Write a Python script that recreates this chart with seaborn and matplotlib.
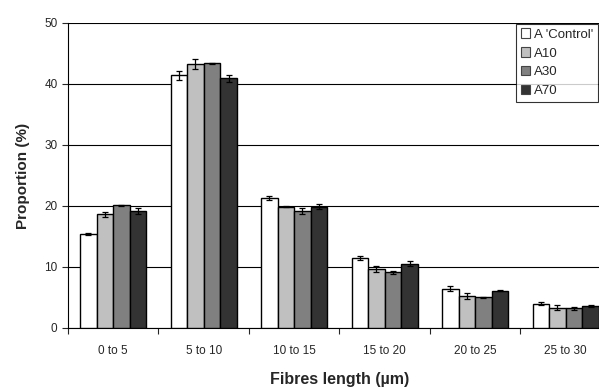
import pandas as pd
import matplotlib.pyplot as plt
import seaborn as sns

categories = ["0 to 5", "5 to 10", "10 to 15", "15 to 20", "20 to 25", "25 to 30"]
series = ["A 'Control'", "A10", "A30", "A70"]
control = [15.4, 41.4, 21.3, 11.5, 6.4, 4.0]
a10 = [18.6, 43.3, 19.9, 9.6, 5.3, 3.3]
a30 = [20.1, 43.4, 19.1, 9.1, 5.0, 3.2]
a70 = [19.1, 40.9, 19.9, 10.5, 6.1, 3.6]
err_control = [0.2, 0.7, 0.4, 0.3, 0.4, 0.2]
err_a10 = [0.4, 0.8, 0.1, 0.5, 0.5, 0.4]
err_a30 = [0.1, 0.1, 0.5, 0.3, 0.1, 0.3]
err_a70 = [0.5, 0.6, 0.4, 0.4, 0.1, 0.2]
colors = ["#ffffff", "#c0c0c0", "#808080", "#333333"]

rows = []
for name, vals, errs in zip(series, [control, a10, a30, a70],
                            [err_control, err_a10, err_a30, err_a70]):
    for c, v, e in zip(categories, vals, errs):
        rows.append({"Length": c, "Sample": name, "Proportion": v, "Err": e})
df = pd.DataFrame(rows)

sns.set_style("white")
plt.rcParams["font.family"] = ["Liberation Sans", "DejaVu Sans"]

fig = plt.figure(figsize=(5.99, 3.89), dpi=100)
ax = fig.add_axes([0.1135, 0.157, 0.9065, 0.784])

sns.barplot(data=df, x="Length", y="Proportion", hue="Sample", order=categories,
            hue_order=series, palette=colors, width=0.73, errorbar=None,
            edgecolor="black", linewidth=1.0, ax=ax, zorder=3)

# error bars from the bar geometry
for cont, name in zip(ax.containers, series):
    sub = df[df["Sample"] == name].set_index("Length").loc[categories]
    xs = [p.get_x() + p.get_width() / 2 for p in cont.patches]
    ax.errorbar(xs, sub["Proportion"], yerr=sub["Err"], fmt="none",
                ecolor="black", elinewidth=0.9, capsize=2.5, capthick=0.9, zorder=4)

ax.set_ylim(0, 50)
ax.set_xlim(-0.5, len(categories) - 0.5)
ax.set_yticks(range(0, 51, 10))
ax.yaxis.grid(True, color="black", linewidth=0.8)
ax.set_axisbelow(True)
ax.set_xticks(range(len(categories)))
ax.set_xticklabels(categories)
ax.tick_params(axis="x", length=0, pad=12, labelsize=8.5)
ax.tick_params(axis="y", left=True, length=4, width=0.8, labelsize=8.5)
# minor ticks between categories
ax.set_xticks([i - 0.5 for i in range(len(categories) + 1)], minor=True)
ax.tick_params(axis="x", which="minor", bottom=True, length=4, width=0.8)

for side in ["left", "bottom"]:
    ax.spines[side].set_color("black")
    ax.spines[side].set_linewidth(0.8)
ax.spines["top"].set_visible(False)
ax.spines["right"].set_visible(False)

ax.set_xlabel("Fibres length (µm)", fontsize=11.5, fontweight="bold", labelpad=11)
ax.set_ylabel("Proportion (%)", fontsize=11, fontweight="bold", labelpad=10)

leg = ax.legend(loc="upper left", bbox_to_anchor=(0.826, 0.997), frameon=True,
                fontsize=9.5, handlelength=0.7, handleheight=0.7, handletextpad=0.3,
                borderpad=0.35, labelspacing=0.5, fancybox=False, borderaxespad=0)
leg.get_frame().set_edgecolor("black")
leg.get_frame().set_linewidth(0.8)
for h in leg.legend_handles:
    h.set_edgecolor("#444444")
    h.set_linewidth(0.8)

fig.savefig("out.png", dpi=100)
